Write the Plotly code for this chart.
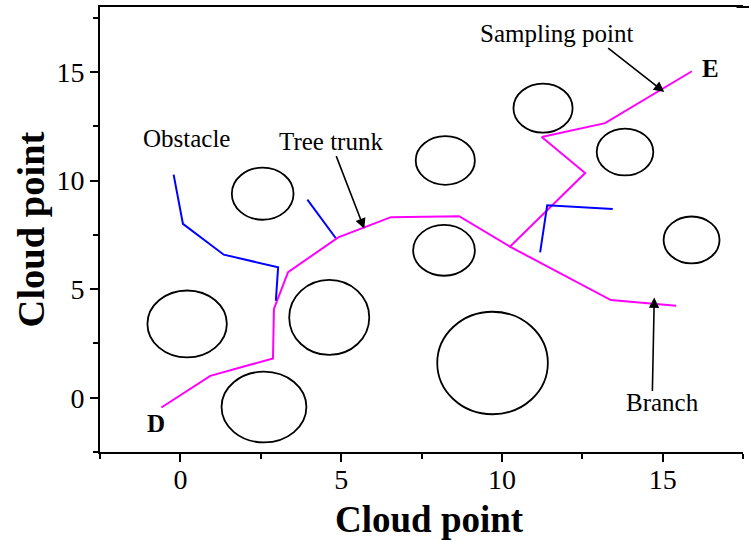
import plotly.graph_objects as go

# ---- data ----
x_ticks = [0, 5, 10, 15]
y_ticks = [0, 5, 10, 15]

# obstacles (ellipses): centre and half-axes in data units
obs_cx = [2.60, 0.21, 4.63, 9.71, 2.56, 8.24, 8.20, 11.28, 13.83, 15.90]
obs_cy = [-0.43, 3.40, 3.70, 1.60, 9.40, 10.93, 6.79, 13.34, 11.32, 7.27]
obs_rx = [1.32, 1.235, 1.245, 1.72, 0.96, 0.92, 0.96, 0.92, 0.88, 0.87]
obs_ry = [1.63, 1.54, 1.73, 2.36, 1.20, 1.12, 1.17, 1.13, 1.08, 1.08]

# tree trunk D -> E (magenta)
trunk_x = [-0.59, 0.93, 2.88, 2.91, 3.35, 4.91, 6.55, 8.67, 10.25, 12.59, 11.24, 13.21, 15.91]
trunk_y = [-0.45, 1.01, 1.81, 4.09, 5.78, 7.39, 8.32, 8.36, 6.96, 10.35, 12.01, 12.65, 15.04]

# branch (magenta)
branch_x = [10.25, 13.39, 15.42]
branch_y = [6.96, 4.50, 4.24]

# blue sample lines
blue1_x = [-0.21, 0.08, 1.35, 3.04, 2.97]
blue1_y = [10.28, 8.01, 6.59, 6.01, 4.47]
blue2_x = [3.95, 4.83]
blue2_y = [9.13, 7.36]
blue3_x = [11.19, 11.41, 13.45]
blue3_y = [6.70, 8.87, 8.70]

# text labels
lab_text = ["Obstacle", "Tree trunk", "Sampling point", "Branch"]
lab_x = [0.19, 4.69, 11.73, 14.99]
lab_y = [11.92, 11.82, 16.80, -0.22]

# arrows: tail -> head
arr_tx = [4.83, 13.26, 14.68]
arr_ty = [11.20, 16.16, 0.24]
arr_hx = [5.72, 15.05, 14.74]
arr_hy = [7.78, 14.08, 4.62]

# end-point letters
end_text = ["D", "E"]
end_x = [-0.75, 16.48]
end_y = [-1.19, 15.15]

FONT = "Liberation Serif, Times New Roman, serif"

fig = go.Figure()
for xs, ys, col in [(trunk_x, trunk_y, "#FF00FF"), (branch_x, branch_y, "#FF00FF"),
                    (blue1_x, blue1_y, "#0000FF"), (blue2_x, blue2_y, "#0000FF"),
                    (blue3_x, blue3_y, "#0000FF")]:
    fig.add_trace(go.Scatter(x=xs, y=ys, mode="lines",
                             line=dict(color=col, width=2), showlegend=False,
                             hoverinfo="skip"))

for cx, cy, rx, ry in zip(obs_cx, obs_cy, obs_rx, obs_ry):
    fig.add_shape(type="circle", xref="x", yref="y",
                  x0=cx - rx, x1=cx + rx, y0=cy - ry, y1=cy + ry,
                  line=dict(color="black", width=1.8))

for t, x, y in zip(lab_text, lab_x, lab_y):
    fig.add_annotation(x=x, y=y, text=t, showarrow=False,
                       font=dict(family=FONT, size=25, color="black"),
                       xanchor="center", yanchor="middle")

for t, x, y in zip(end_text, end_x, end_y):
    fig.add_annotation(x=x, y=y, text="<b>" + t + "</b>", showarrow=False,
                       font=dict(family=FONT, size=25, color="black"),
                       xanchor="center", yanchor="middle")

for tx, ty, hx, hy in zip(arr_tx, arr_ty, arr_hx, arr_hy):
    fig.add_annotation(x=hx, y=hy, ax=tx, ay=ty, xref="x", yref="y",
                       axref="x", ayref="y", text="", showarrow=True,
                       arrowhead=2, arrowsize=1.3, arrowwidth=1.6,
                       arrowcolor="black")

# x-axis title (placed as annotation to match the reference offset)
fig.add_annotation(x=0.5124, y=-0.1506, xref="paper", yref="paper",
                   text="<b>Cloud point</b>", showarrow=False,
                   font=dict(family=FONT, size=37, color="black"),
                   xanchor="center", yanchor="middle")

# extend top border line to the right edge like the reference
fig.add_shape(type="line", xref="paper", yref="paper", x0=0.99, x1=1.02,
              y0=1, y1=1, line=dict(color="black", width=2))

fig.update_layout(
    width=749, height=540,
    margin=dict(l=100, r=6, t=7, b=88, pad=0),
    paper_bgcolor="white", plot_bgcolor="white",
    font=dict(family=FONT, color="black"),
    showlegend=False,
)
fig.update_xaxes(
    range=[-2.5, 17.5], tickvals=x_ticks, ticktext=[str(v) for v in x_ticks],
    ticks="outside", ticklen=8, tickwidth=2, tickcolor="black",
    ticklabelstandoff=-7,
    showline=True, linewidth=2, linecolor="black", mirror=True,
    showgrid=False, zeroline=False,
    tickfont=dict(family=FONT, size=28, color="black"),
    minor=dict(dtick=2.5, tick0=0, ticks="outside", ticklen=5, tickwidth=2,
               tickcolor="black", showgrid=False),
)
fig.update_yaxes(
    range=[-2.5, 18], tickvals=y_ticks, ticktext=[str(v) for v in y_ticks],
    ticks="outside", ticklen=8, tickwidth=2, tickcolor="black",
    showline=True, linewidth=2, linecolor="black", mirror=False,
    showgrid=False, zeroline=False,
    tickfont=dict(family=FONT, size=28, color="black"),
    minor=dict(dtick=2.5, tick0=0, ticks="outside", ticklen=5, tickwidth=2,
               tickcolor="black", showgrid=False),
    title=dict(text="<b>Cloud point</b>", font=dict(family=FONT, size=38.5, color="black"),
               standoff=0),
)

fig.write_html("out.html")
